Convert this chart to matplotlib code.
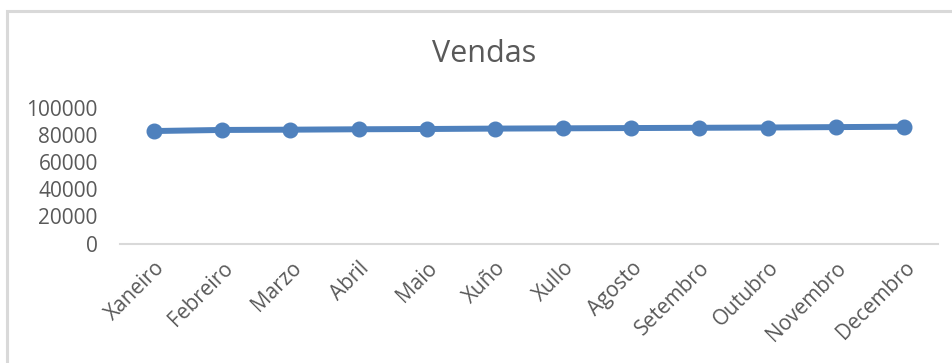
import matplotlib.pyplot as plt
from matplotlib.patches import Rectangle

months = ['Xaneiro', 'Febreiro', 'Marzo', 'Abril', 'Maio', 'Xuño',
          'Xullo', 'Agosto', 'Setembro', 'Outubro', 'Novembro', 'Decembro']
sales = [83000, 83800, 84000, 84300, 84500, 84800,
         85000, 85200, 85400, 85600, 85900, 86200]
yticks = [0, 20000, 40000, 60000, 80000, 100000]

plt.rcParams['font.family'] = ['Open Sans', 'DejaVu Sans']
grey = '#595959'

fig = plt.figure(figsize=(9.53, 3.63), dpi=100)
ax = fig.add_axes([120 / 953, (363 - 243.5) / 363, 818 / 953, 135.5 / 363])

# chart frame (only top and left edges are in view)
fig.patches.append(Rectangle((6.5 / 953, -0.1), 1.2, (363 - 10.5) / 363 + 0.1,
                             transform=fig.transFigure, fill=False,
                             edgecolor='#d9d9d9', linewidth=2.2))

x = range(len(months))
ax.plot(x, sales, color='#4f81bd', linewidth=4.3, marker='o',
        markersize=10.5, solid_capstyle='round')

ax.set_xlim(-0.5, len(months) - 0.5)
ax.set_ylim(0, 100000)
ax.set_yticks(yticks)
ax.set_yticklabels([str(v) for v in yticks])
ax.set_xticks(list(x))
ax.set_xticklabels(months, rotation=45, ha='right', rotation_mode='anchor')

for side in ['top', 'right', 'left']:
    ax.spines[side].set_visible(False)
ax.spines['bottom'].set_color('#d9d9d9')
ax.spines['bottom'].set_linewidth(1.5)
ax.tick_params(axis='both', length=0, labelsize=15, colors=grey)
ax.tick_params(axis='y', pad=16)
ax.tick_params(axis='x', pad=10)

fig.text(484.5 / 953, (363 - 54) / 363, 'Vendas', ha='center', va='center',
         fontsize=22, color=grey)

fig.savefig('out.png', dpi=100)
